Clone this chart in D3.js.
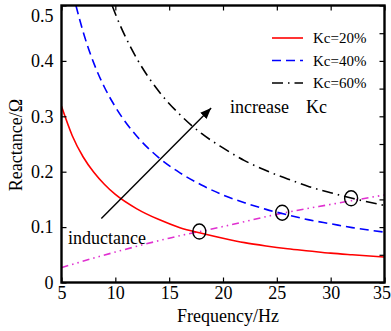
<!DOCTYPE html>
<html><head><meta charset="utf-8">
<script src="https://cdn.jsdelivr.net/npm/d3@7/dist/d3.min.js"></script>
<style>html,body{margin:0;padding:0;background:#fff;} svg{display:block;}</style>
</head><body><svg id="c" width="391" height="331"></svg>
<script>
// ---- data ----
const freqRed   = [5, 6, 7, 8, 9, 10, 12, 14, 16, 18, 20, 22, 24, 26, 28, 30, 32, 35];
const kc20      = [0.318, 0.265, 0.227, 0.199, 0.177, 0.159, 0.133, 0.114, 0.099, 0.089, 0.080, 0.072, 0.066, 0.061, 0.057, 0.053, 0.050, 0.046];
const freqBlue  = [6.34, 7, 8, 9, 10, 12, 14, 16, 18, 20, 22, 24, 26, 28, 30, 32, 35];
const kc40      = [0.500, 0.453, 0.396, 0.352, 0.317, 0.264, 0.226, 0.198, 0.176, 0.158, 0.144, 0.132, 0.122, 0.113, 0.106, 0.099, 0.091];
const freqBlack = [9.7, 10, 11, 12, 14, 16, 18, 20, 22, 24, 26, 28, 30, 32, 35];
const kc60      = [0.500, 0.485, 0.441, 0.404, 0.346, 0.303, 0.269, 0.243, 0.220, 0.202, 0.187, 0.173, 0.162, 0.152, 0.139];
const freqInd   = [5, 10, 15, 20, 25, 30, 35];
const inductance = [0.027, 0.055, 0.080, 0.101, 0.123, 0.141, 0.158];
const crossF    = [17.8, 25.5, 31.9];
const crossV    = [0.092, 0.126, 0.152];
const xTicks    = [5, 10, 15, 20, 25, 30, 35];
const yTicks    = [0, 0.1, 0.2, 0.3, 0.4, 0.5];
const yTicksRight = [0, 0.05, 0.1, 0.15, 0.2, 0.25, 0.3, 0.35, 0.4, 0.45, 0.5];
const legendLabels = ["Kc=20%", "Kc=40%", "Kc=60%"];
const arrowFrom = [8.7, 0.1155];
const arrowTo   = [18.9, 0.315];

const svg = d3.select("#c");
const FONT = "'Liberation Serif','Times New Roman',serif";
const L = 61.5, R = 384.5, T = 5.5, B = 282.5;
const x = d3.scaleLinear().domain([5, 35]).range([L, R]);
const y = d3.scaleLinear().domain([0, 0.5]).range([B, T]);

svg.append("defs").append("clipPath").attr("id","clip")
  .append("rect").attr("x",L).attr("y",T).attr("width",R-L).attr("height",B-T);

const plot = svg.append("g").attr("clip-path","url(#clip)");
const line = d3.line().x(d=>x(d[0])).y(d=>y(d[1])).curve(d3.curveMonotoneX);

const series = [
  {f: freqInd, v: inductance, color:"#e030d0", dash:"7,4,1.5,4,1.5,4"},
  {f: freqRed, v: kc20, color:"#ff0000", dash:null},
  {f: freqBlue, v: kc40, color:"#0000ff", dash:"9,5"},
  {f: freqBlack, v: kc60, color:"#000000", dash:"11,5,1.5,5"}
];
series.forEach(s=>{
  plot.append("path").datum(s.f.map((f,i)=>[f,s.v[i]]))
    .attr("d", line).attr("fill","none").attr("stroke", s.color)
    .attr("stroke-width", 1.6).attr("stroke-dasharray", s.dash);
});

// circles at crossings
crossF.forEach((f,i)=>{
  svg.append("ellipse").attr("cx", x(f)).attr("cy", y(crossV[i]))
    .attr("rx", 6.5).attr("ry", 7.5).attr("fill","none")
    .attr("stroke","#000").attr("stroke-width",1.4);
});

// arrow
svg.append("defs").append("marker").attr("id","ah").attr("viewBox","0 0 10 10")
  .attr("refX",10).attr("refY",5).attr("markerWidth",11).attr("markerHeight",11)
  .attr("markerUnits","userSpaceOnUse").attr("orient","auto")
  .append("path").attr("d","M0,1 L10,5 L0,9 Z").attr("fill","#000");
svg.append("line").attr("x1",x(arrowFrom[0])).attr("y1",y(arrowFrom[1]))
  .attr("x2",x(arrowTo[0])).attr("y2",y(arrowTo[1]))
  .attr("stroke","#000").attr("stroke-width",1.4).attr("marker-end","url(#ah)");

// annotations
const inc = svg.append("text").attr("x", x(20.65)).attr("y", y(0.306)).attr("font-family",FONT)
  .attr("font-size",18);
inc.append("tspan").text("increase");
inc.append("tspan").attr("x", x(27.7)).text("Kc");
svg.append("text").attr("x", x(5.6)).attr("y", y(0.069)).attr("font-family",FONT)
  .attr("font-size",18).text("inductance");

// axes frame
const axB = d3.axisBottom(x).tickValues(xTicks).tickSize(-5).tickPadding(4).tickFormat(d3.format("d"));
const axT = d3.axisTop(x).tickValues(xTicks).tickSize(-5).tickFormat("");
const axL = d3.axisLeft(y).tickValues(yTicks).tickSize(-5).tickPadding(8).tickFormat(d=>d===0?"0":d3.format(".1f")(d));
const axR = d3.axisRight(y).tickValues(yTicksRight).tickSize(-5).tickFormat("");
function style(g){
  g.select(".domain").remove();
  g.selectAll(".tick line").attr("stroke","#000").attr("stroke-width",1.2);
  g.selectAll("text").attr("font-family",FONT).attr("font-size",18).attr("fill","#000");
}
const gb = svg.append("g").attr("transform",`translate(0,${B})`).call(axB).call(style);
gb.selectAll(".tick text").filter(d=>d===35).attr("dx", -3);
svg.append("g").attr("transform",`translate(0,${T})`).call(axT).call(style);
const gl = svg.append("g").attr("transform",`translate(${L},0)`).call(axL).call(style);
gl.selectAll(".tick text").attr("dy", d=> d===0.5 ? "0.9em" : "0.32em");
svg.append("g").attr("transform",`translate(${R},0)`).call(axR).call(style);
svg.append("rect").attr("x",L).attr("y",T).attr("width",R-L).attr("height",B-T)
  .attr("fill","none").attr("stroke","#000").attr("stroke-width",2.4);

// axis titles
svg.append("text").attr("x",(L+R)/2+5).attr("y",322).attr("text-anchor","middle")
  .attr("font-family",FONT).attr("font-size",18).text("Frequency/Hz");
svg.append("text").attr("transform",`translate(22,145) rotate(-90)`).attr("text-anchor","middle")
  .attr("font-family",FONT).attr("font-size",18).text("Reactance/Ω");

// legend
const legColors = ["#ff0000","#0000ff","#000000"];
const legDash = [null,"9,5","11,5,1.5,5"];
const legY = [38, 60.5, 83];
legendLabels.forEach((lab,i)=>{
  svg.append("line").attr("x1",272).attr("x2",303).attr("y1",legY[i]).attr("y2",legY[i])
    .attr("stroke",legColors[i]).attr("stroke-width",1.6).attr("stroke-dasharray",legDash[i]);
  svg.append("text").attr("x",313).attr("y",legY[i]).attr("dy","0.35em")
    .attr("font-family",FONT).attr("font-size",15).text(lab);
});
</script></body></html>
